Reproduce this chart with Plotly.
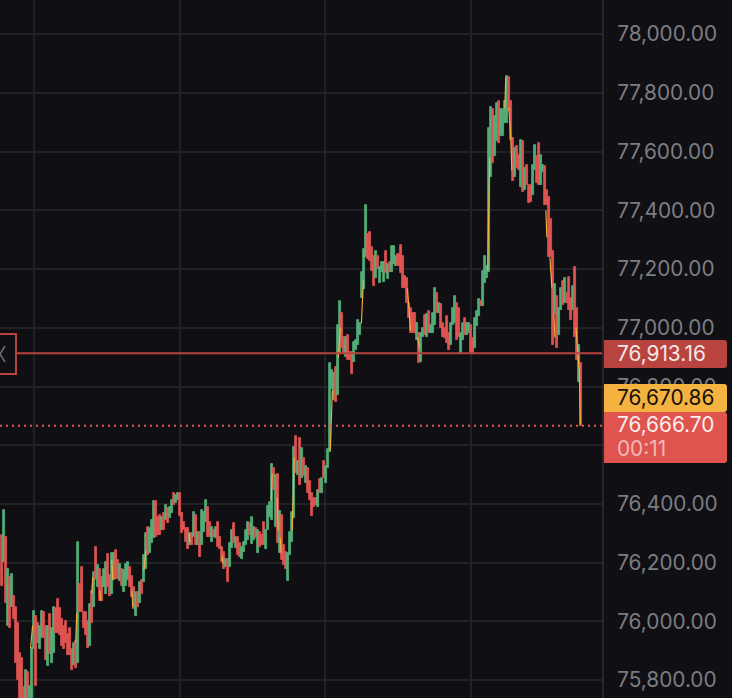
import plotly.graph_objects as go

## candle highs
highs = [
    76293, 76381, 76286, 76177, 76150, 76163, 76088, 76048, 75993, 75891,
    75874, 75775, 75836, 75826, 75779, 75908, 76037, 76017, 75996, 75986,
    76034, 76031, 75986, 75986, 76024, 75979, 76048, 76044, 76078, 76044,
    76007, 75983, 76000, 75956, 75979, 75905, 75928, 75932, 76269, 76129,
    76184, 76031, 76031, 76003, 76058, 76102, 76167, 76252, 76191, 76180,
    76150, 76180, 76201, 76228, 76157, 76232, 76232, 76242, 76208, 76197,
    76180, 76174, 76197, 76201, 76187, 76153, 76116, 76099, 76099, 76133,
    76140, 76225, 76300, 76320, 76317, 76344, 76409, 76409, 76354, 76364,
    76354, 76368, 76395, 76385, 76388, 76412, 76436, 76432, 76439, 76436,
    76368, 76337, 76317, 76317, 76300, 76300, 76371, 76361, 76303, 76303,
    76378, 76371, 76412, 76388, 76337, 76323, 76310, 76323, 76337, 76286,
    76255, 76238, 76211, 76211, 76266, 76313, 76334, 76286, 76289, 76266,
    76252, 76269, 76313, 76337, 76334, 76354, 76320, 76317, 76313, 76303,
    76293, 76337, 76310, 76392, 76405, 76535, 76521, 76497, 76501, 76375,
    76361, 76259, 76235, 76232, 76303, 76371, 76593, 76630, 76548, 76623,
    76589, 76555, 76531, 76524, 76477, 76436, 76419, 76422, 76446, 76484,
    76490, 76548, 76528, 76586, 76879, 76855, 76845, 76868, 77008, 77090,
    77049, 76967, 76967, 76974, 76916, 76916, 76950, 76957, 77025, 77015,
    77189, 77270, 77417, 77321, 77328, 77274, 77243, 77263, 77246, 77206,
    77223, 77223, 77263, 77219, 77223, 77277, 77277, 77243, 77253, 77281,
    77243, 77178, 77168, 77086, 77069, 77049, 77052, 77018, 76984, 76984,
    77001, 77042, 77046, 77056, 77008, 77049, 77137, 77117, 77083, 77080,
    77018, 77001, 77039, 76981, 77015, 77066, 77110, 77086, 77069, 76981,
    77015, 77035, 77015, 77015, 77008, 76964, 77032, 77056, 77097, 77093,
    77195, 77246, 77212, 77679, 77751, 77744, 77723, 77764, 77771, 77744,
    77744, 77774, 77856, 77853, 77774, 77645, 77614, 77618, 77587, 77638,
    77635, 77543, 77556, 77485, 77485, 77553, 77621, 77584, 77631, 77590,
    77556, 77550, 77468, 77447, 77372, 77263, 77148, 77107, 77066, 77134,
    77161, 77168, 77117, 77172, 77100, 77141, 77206, 77069, 76940, 76879,
]

## candle lows, the ones under the bottom edge are only a guess
lows = [
    76119, 76201, 76061, 75983, 75976, 76048, 76007, 75857, 75799, 75730,
    75730, 75730, 75730, 75730, 75730, 75730, 75905, 75779, 75928, 75905,
    75942, 75945, 75870, 75847, 75888, 75860, 75894, 75962, 75962, 75952,
    75915, 75905, 75925, 75884, 75884, 75836, 75850, 75843, 75860, 76031,
    76031, 75976, 75952, 75908, 75915, 75996, 76048, 76140, 76116, 76071,
    76068, 76116, 76092, 76116, 76085, 76092, 76140, 76143, 76146, 76136,
    76119, 76099, 76122, 76140, 76116, 76082, 76041, 76020, 76048, 76061,
    76092, 76133, 76180, 76225, 76232, 76266, 76283, 76286, 76293, 76293,
    76310, 76310, 76344, 76334, 76351, 76368, 76398, 76402, 76415, 76358,
    76300, 76310, 76269, 76245, 76259, 76259, 76289, 76259, 76259, 76221,
    76259, 76303, 76337, 76289, 76289, 76269, 76286, 76283, 76252, 76245,
    76201, 76177, 76184, 76133, 76184, 76249, 76266, 76249, 76225, 76218,
    76211, 76235, 76259, 76276, 76293, 76262, 76276, 76283, 76232, 76255,
    76259, 76259, 76245, 76310, 76354, 76347, 76449, 76320, 76266, 76232,
    76208, 76191, 76180, 76136, 76225, 76269, 76351, 76504, 76497, 76463,
    76487, 76494, 76470, 76436, 76412, 76358, 76388, 76395, 76388, 76439,
    76439, 76487, 76470, 76524, 76576, 76790, 76753, 76749, 76770, 76913,
    76930, 76913, 76899, 76892, 76889, 76841, 76882, 76923, 76940, 76974,
    77100, 77131, 77240, 77233, 77229, 77195, 77141, 77168, 77202, 77151,
    77189, 77155, 77185, 77165, 77189, 77189, 77219, 77212, 77212, 77185,
    77134, 77134, 77083, 77032, 76981, 76981, 76984, 76960, 76879, 76885,
    76967, 76974, 76967, 76981, 76981, 76981, 77008, 77049, 77049, 77001,
    76967, 76964, 76947, 76923, 76943, 77011, 77015, 76957, 76967, 76913,
    76957, 76974, 76974, 76984, 76913, 76913, 76930, 77005, 77039, 77073,
    77073, 77151, 77168, 77189, 77512, 77560, 77584, 77635, 77631, 77652,
    77652, 77696, 77696, 77740, 77638, 77499, 77512, 77546, 77536, 77481,
    77464, 77471, 77485, 77424, 77427, 77451, 77539, 77492, 77485, 77485,
    77529, 77417, 77417, 77240, 77240, 76943, 77046, 76930, 76974, 77059,
    77076, 77083, 77083, 77059, 77025, 77059, 76967, 76889, 76814, 76666.7,
]

## g = green candle, r = red candle, ten per chunk
candle_dirs = (
    "rgrgrgrrrr" "rrgrgggrrg" "grrgrggrrr" "rrrrrrgrgr" "rrrrgrgrgr"
    "rggrrggrrg" "rgggrrrgrg" "rggrgggrrr" "grgrggrggr" "rrrrgrgrgr"
    "gggrrgrgrr" "rrgrggrgrr" "ggggrggrgr" "rrggggrgrg" "rrrggggrgr"
    "grgrrrrrgr" "grgggggrgg" "rrgrrrgggg" "gggrrrrgrg" "ggrgrgggrr"
    "rrrrrrrgrg" "grgrgggrgr" "rrrrgggrrg" "grggrrgggr" "gggggrggrg"
    "gggrrrgrrg" "rgrrrggrrg" "grrrrrgrgg" "rgrrrgrrgr"
)

## orange line, only the stretches that show beside the candles
line_x = [
    14.5, 15.5, None, 37, 37.5, None, 45, 45.5, None, 49, 49.5, None,
    55, 55.5, None, 65, 65.5, None, 71, 72, None, 93.5, 94, None,
    110, 110.5, None, 134.5, 135, None, 137.5, 138, None, 139, 139.5, None,
    145, 146, None, 164, 165, None, 168, 169, None, 179.5, 180.5, None,
    202.5, 204, None, 207.5, 208.5, None, 242.5, 243.5, None, 251, 251.5, None,
    253, 254, 254.5, None, 271.5, 272, None, 273.5, 274.5, None, 275.5, 276, None,
    286.5, 288.2, 288.7,
]
line_y = [
    75908, 75986, None, 75928, 76027, None, 76095, 76150, None, 76105, 76071, None,
    76208, 76140, None, 76105, 76048, None, 76174, 76242, None, 76300, 76269, None,
    76225, 76197, None, 76412, 76504, None, 76422, 76310, None, 76286, 76232, None,
    76310, 76558, None, 76582, 76787, None, 76899, 77001, None, 77015, 77161, None,
    77134, 76991, None, 76967, 76933, None, 77195, 77580, None, 77747, 77853, None,
    77751, 77648, 77536, None, 77400, 77308, None, 77240, 77137, None, 77049, 76967, None,
    77001, 76850, 76670.86,
]

order_price = 76913.16
last_price = 76666.70
line_price = 76670.86
countdown = "00:11"

UP = "#54ad78"
DOWN = "#e05450"
ORANGE = "#f4b340"
BG = "#101014"
GRID = "#212226"
ORDER_RED = "#b9443f"

W = 732
H = 698
PLOT_W = 602


def px(x):
    return x / PLOT_W


def py(y):
    return 1 - y / H


def box(top, bottom, color):
    # price tag with rounded right corners
    l, r, t, b = px(604), px(727), py(top), py(bottom)
    rx, ry = px(3), 3 / H
    path = (f"M {l} {t} L {r - rx} {t} Q {r} {t} {r} {t - ry} "
            f"L {r} {b + ry} Q {r} {b} {r - rx} {b} L {l} {b} Z")
    return dict(type="path", path=path, xref="paper", yref="paper",
                fillcolor=color, line_width=0, layer="above")


def tag(text, y, color, size=20.8):
    return dict(text=text, xref="paper", yref="paper", x=px(614.5), y=py(y),
                xanchor="left", yanchor="middle", showarrow=False,
                font=dict(color=color, size=size, family="Inter"))


x_idx = list(range(len(highs)))
colors = [UP if d == "g" else DOWN for d in candle_dirs]

fig = go.Figure()
fig.add_trace(go.Bar(x=x_idx, base=lows, y=[h - l for h, l in zip(highs, lows)],
                     width=1, marker=dict(color=colors, line=dict(color=colors, width=0.8)),
                     hoverinfo="skip"))
fig.add_trace(go.Scatter(x=line_x, y=line_y, mode="lines", connectgaps=False,
                         line=dict(color=ORANGE, width=1.1), hoverinfo="skip"))

shapes = [
    # order line and its handle on the left
    dict(type="line", xref="paper", yref="y", x0=px(16), x1=1, y0=order_price, y1=order_price,
         line=dict(color=ORDER_RED, width=2), layer="above"),
    dict(type="rect", xref="paper", yref="paper", x0=px(-4), x1=px(16), y0=py(334), y1=py(374),
         line=dict(color=ORDER_RED, width=2), fillcolor=BG, layer="above"),
    dict(type="line", xref="paper", yref="paper", x0=px(-5), x1=px(5), y0=py(362), y1=py(346),
         line=dict(color="#6e6f73", width=1.5), layer="above"),
    dict(type="line", xref="paper", yref="paper", x0=px(-5), x1=px(5), y0=py(346), y1=py(362),
         line=dict(color="#6e6f73", width=1.5), layer="above"),
    # last price
    dict(type="line", xref="paper", yref="y", x0=0, x1=1, y0=last_price, y1=last_price,
         line=dict(color=DOWN, width=2, dash="2px,4px"), layer="above"),
    box(340, 368, ORDER_RED),
    box(384, 412, ORANGE),
    box(412, 463, DOWN),
]

annotations = [
    tag(f"{order_price:,.2f}", 353, "#f4e6e5"),
    tag(f"{line_price:,.2f}", 397.5, "#15120c"),
    tag(f"{last_price:,.2f}", 424.5, "#fbeeee"),
    tag(countdown, 448.5, "#f2b9b6"),
]

fig.update_layout(
    width=W, height=H,
    margin=dict(l=0, r=W - PLOT_W, t=0, b=0),
    paper_bgcolor=BG, plot_bgcolor=BG,
    showlegend=False,
    bargap=0,
    shapes=shapes,
    annotations=annotations,
    xaxis=dict(range=[-0.75, 299.5], tick0=16.2, dtick=72.65, showticklabels=False,
               gridcolor=GRID, gridwidth=2, zeroline=False, ticks=""),
    yaxis=dict(range=[75739.1, 78116.5], side="right", dtick=200, tickformat=",.2f",
               gridcolor=GRID, gridwidth=2, zeroline=False, ticks="",
               showline=True, linecolor="#26272b", linewidth=2, ticklabelstandoff=9,
               tickfont=dict(color="#7c7d81", size=20.8, family="Inter")),
)

fig.write_html("out.html", config=dict(displayModeBar=False),
               post_script="document.body.style.margin='0';document.body.style.overflow='hidden';")
